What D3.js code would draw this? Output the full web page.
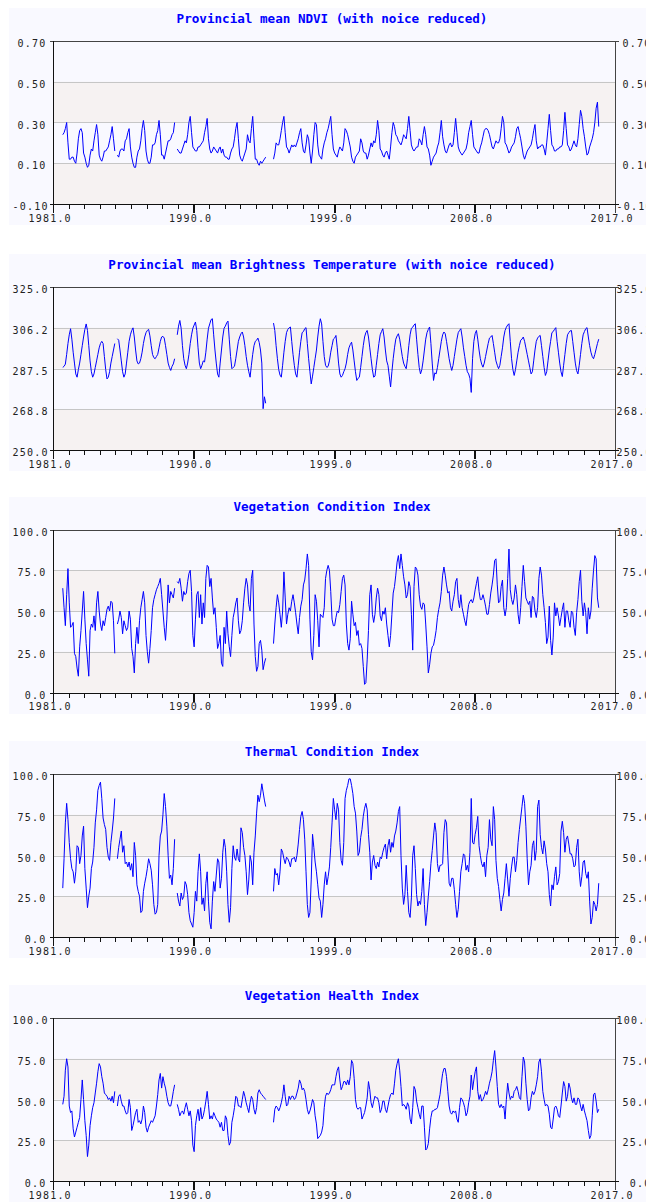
<!DOCTYPE html>
<html>
<head>
<meta charset="utf-8">
<script src="https://cdn.jsdelivr.net/npm/d3@7"></script>
<style>
  body { margin: 0; background: #fff; overflow: hidden; }
  svg { display: block; }
</style>
</head>
<body>
<svg id="chart" width="646" height="1203"></svg>
<script>
/* Provincial VHP series, monthly values.
   One row per year (Jan..Dec), starting Jan 1981. null = no data. */

const startYear = 1981;

const ndvi = [
  null,null,null,null,null,null,null,0.24,0.25,0.27,0.30,0.20,
  0.12,0.12,0.13,0.13,0.11,0.10,0.15,0.22,0.26,0.27,0.25,0.15,
  0.13,0.10,0.08,0.09,0.14,0.17,0.16,0.21,0.25,0.29,0.24,0.14,
  0.12,0.11,0.13,0.16,0.16,0.17,0.18,0.21,0.24,0.28,0.22,0.16,
  null,0.14,0.13,0.16,0.17,0.17,0.16,0.21,0.22,0.25,0.27,0.18,
  0.13,0.10,0.08,0.08,0.13,0.16,0.17,0.21,0.27,0.31,0.26,0.16,
  0.12,0.10,0.10,0.13,0.19,0.19,0.20,0.24,0.26,0.31,0.24,0.14,
  0.14,0.12,0.15,0.18,0.21,0.21,0.22,0.24,0.25,0.30,null,0.17,
  0.16,0.15,0.15,0.17,0.19,0.21,0.20,0.24,0.30,0.33,0.25,0.18,
  0.17,0.16,0.16,0.18,0.18,0.19,0.20,0.21,0.25,0.28,0.32,0.22,
  0.17,0.15,0.16,0.18,0.17,0.16,0.15,0.17,0.18,0.15,0.17,0.14,
  0.13,0.13,0.12,0.12,0.15,0.17,0.18,0.22,0.27,0.30,0.22,0.14,
  0.12,0.11,0.13,0.15,0.17,0.24,0.21,0.20,0.27,0.33,0.22,0.12,
  0.12,0.10,0.09,0.11,0.10,0.11,0.12,0.13,null,null,null,null,
  null,0.12,0.15,0.20,0.19,0.19,0.22,0.26,0.30,0.33,0.25,0.18,
  0.17,0.15,0.17,0.19,0.18,0.19,0.18,0.20,0.22,0.25,0.27,0.20,
  0.16,0.15,0.19,0.24,0.22,0.15,0.10,0.16,0.24,0.30,0.29,0.19,
  0.14,0.13,0.12,0.17,0.20,0.22,0.25,0.27,0.30,0.33,0.24,0.17,
  0.15,0.14,0.13,0.16,0.18,0.17,0.16,0.20,0.27,0.26,0.24,0.21,
  0.18,0.13,0.11,0.10,0.13,0.14,0.15,0.16,0.22,0.20,0.16,0.15,
  0.15,0.12,0.14,0.17,0.20,0.18,0.21,0.20,0.24,0.31,0.26,0.17,
  0.16,0.14,0.13,0.15,0.16,0.14,0.12,0.18,0.25,0.30,0.28,0.24,
  0.23,0.21,0.20,0.19,0.21,0.24,0.23,0.22,0.27,0.33,0.26,0.19,
  0.17,0.16,0.17,0.18,0.18,0.22,0.21,0.19,0.24,0.28,0.24,0.18,
  0.17,0.14,0.09,0.11,0.13,0.14,0.15,0.18,0.20,0.25,0.31,0.23,
  0.19,0.16,0.15,0.17,0.19,0.20,0.18,0.19,0.25,0.32,0.25,0.18,
  0.16,0.15,0.14,0.15,0.16,0.17,0.20,0.25,0.28,0.31,0.24,0.18,
  0.17,0.16,0.15,0.15,0.18,0.20,0.23,0.26,0.27,0.27,0.26,0.24,
  0.21,0.18,0.17,0.19,0.21,0.20,0.20,0.22,0.27,0.33,0.30,0.20,
  0.19,0.17,0.15,0.16,0.18,0.19,0.20,0.23,0.27,0.28,0.25,0.22,
  0.18,0.14,0.12,0.14,0.16,0.17,0.18,0.19,0.22,0.26,0.29,0.21,
  0.17,0.18,0.18,0.19,0.19,0.17,0.14,0.20,0.27,0.34,0.26,0.19,
  0.18,0.16,0.16,0.17,0.17,0.18,0.18,0.19,0.26,0.35,0.27,0.19,
  0.18,0.16,0.17,0.19,0.21,0.19,0.18,0.22,0.29,0.36,0.33,0.27,
  0.23,0.18,0.14,0.15,0.18,0.20,0.22,0.25,0.30,0.37,0.40,0.28
];

const bt = [
  null,null,null,null,null,null,null,288.0,288.5,289.5,294.0,299.0,
  303.0,305.8,301.0,295.0,290.0,285.0,283.5,287.0,290.0,294.0,298.0,302.0,
  305.5,308.0,305.0,298.0,291.0,286.0,283.5,285.0,288.0,291.0,294.0,297.0,
  299.0,300.0,299.0,293.0,287.0,282.7,283.5,286.0,290.0,293.0,296.0,299.0,
  null,301.2,300.5,296.0,291.0,286.0,283.5,285.0,290.0,295.0,300.0,303.0,
  305.0,306.2,302.0,296.0,291.0,289.6,290.0,292.0,295.0,299.0,302.0,304.0,
  305.0,305.5,302.5,298.0,294.0,292.5,292.0,293.0,294.0,297.0,300.0,302.0,
  302.3,301.5,298.0,294.0,290.0,288.0,286.6,288.5,289.6,292.0,null,303.0,
  307.0,309.6,306.0,298.0,292.0,289.0,287.4,290.0,294.0,299.0,303.0,306.0,
  307.5,308.9,305.0,297.0,290.0,287.4,289.0,291.0,290.5,295.0,301.0,306.0,
  308.0,310.0,310.4,303.0,296.0,290.0,285.0,283.5,290.0,296.0,302.0,306.0,
  307.0,308.5,309.3,301.0,293.0,287.4,288.0,288.5,292.0,296.0,300.0,302.0,
  303.5,304.3,302.0,298.0,293.0,289.0,286.0,283.5,289.0,294.0,298.0,300.0,
  300.5,301.5,299.5,296.0,290.0,269.0,274.5,271.5,null,null,null,null,
  null,308.4,305.0,298.0,292.0,287.0,284.5,283.5,289.0,295.0,300.0,304.0,
  305.5,306.2,306.6,300.0,294.0,289.0,285.0,283.5,289.0,295.0,300.0,304.0,
  304.5,305.8,306.3,299.0,292.0,286.0,280.4,284.0,288.0,292.0,296.0,302.0,
  307.0,310.4,308.0,300.0,293.0,289.0,288.0,288.5,291.0,295.0,298.0,301.0,
  301.5,302.7,297.0,290.0,285.0,283.5,284.3,286.0,287.4,290.0,294.0,297.0,
  298.5,299.6,296.0,291.0,286.0,282.0,283.0,283.5,288.0,293.0,298.0,302.0,
  304.0,305.0,302.0,297.0,292.0,287.0,283.5,284.0,289.0,294.0,299.0,303.0,
  304.5,305.8,302.0,296.0,291.0,288.9,284.0,279.0,286.0,292.0,297.0,301.0,
  302.5,303.5,301.0,297.0,293.0,290.0,288.5,287.4,292.0,298.0,303.0,306.0,
  306.5,307.5,308.1,301.0,294.0,288.0,285.0,287.0,291.0,296.0,301.0,304.0,
  305.5,306.6,299.0,290.0,282.0,285.5,285.0,288.0,292.0,296.0,300.0,303.0,
  304.3,303.5,300.0,296.0,292.0,289.0,286.6,289.0,293.0,297.0,301.0,304.0,
  305.0,305.8,302.0,297.0,293.0,289.0,286.0,285.0,283.0,276.5,292.0,300.0,
  303.5,305.0,301.0,296.0,292.0,289.5,288.1,290.0,293.0,296.0,299.0,301.5,
  302.0,302.7,299.0,295.0,291.0,289.0,287.4,289.0,293.0,297.0,302.0,305.0,
  306.5,307.5,308.1,300.0,292.0,287.0,284.3,287.0,291.0,295.0,298.0,300.5,
  301.0,302.0,300.0,297.0,294.0,291.0,288.0,285.0,286.0,291.0,296.0,300.0,
  301.5,302.3,302.7,298.0,293.0,288.0,284.3,286.0,291.0,296.0,300.0,304.0,
  304.5,305.5,306.3,300.0,295.0,290.0,286.0,283.8,289.0,294.0,299.0,303.0,
  304.0,304.8,305.0,300.0,295.0,290.0,286.5,285.0,289.0,294.0,299.0,303.0,
  304.5,305.8,306.3,302.0,298.0,295.0,293.0,292.0,294.0,296.5,299.0,301.0
];

const vci = [
  null,null,null,null,null,null,null,64,52,41,60,76,
  55,40,41,43,24,22,15,10,28,38,50,62,
  45,30,20,10,38,42,40,47,38,55,62,50,
  42,38,44,41,46,51,53,50,56,55,44,24,
  null,42,45,50,46,36,44,41,38,40,50,45,
  27,22,12,30,40,30,44,52,57,62,55,35,
  25,18,27,38,52,57,60,63,65,67,70,60,
  50,40,32,45,66,55,62,60,58,64,null,68,
  67,70,64,56,62,60,61,68,73,75,62,35,
  28,45,60,62,46,60,42,55,46,70,78,77,
  65,70,58,48,52,40,27,30,35,18,16,40,
  30,50,36,28,22,35,46,50,55,58,44,36,
  38,44,55,64,70,66,54,50,70,75,42,22,
  13,16,30,32,26,14,18,21,null,null,null,null,
  null,30,42,52,60,55,48,40,50,74,58,42,
  48,52,50,56,60,55,49,42,36,46,53,57,
  66,69,76,85,78,45,25,20,35,60,56,44,
  28,48,47,46,52,70,75,78,75,62,45,41,
  41,46,50,49,54,62,70,72,66,42,30,26,
  33,56,48,41,43,35,38,29,30,27,16,5,
  6,20,38,60,66,48,43,48,58,64,60,47,
  44,50,48,52,42,35,28,35,48,61,65,72,
  80,84,76,85,78,71,66,58,60,68,65,48,
  26,65,77,76,72,60,53,51,55,54,42,28,
  12,17,24,28,29,33,38,46,51,55,62,72,
  77,72,66,61,62,52,50,56,60,68,70,57,
  52,60,52,48,44,41,48,54,56,57,55,58,
  63,67,71,62,57,57,60,57,53,48,48,54,
  61,66,72,81,82,66,55,56,65,69,52,47,
  52,70,88,63,57,54,58,66,60,48,42,52,
  65,78,68,58,56,54,56,46,59,58,50,46,
  52,70,77,72,60,52,43,30,34,53,32,23,
  34,55,47,52,47,41,46,51,55,40,50,50,
  44,40,50,49,40,35,49,57,68,75,56,47,
  55,49,36,52,45,50,64,75,84,82,58,52
];

const tci = [
  null,null,null,null,null,null,null,30,48,70,82,72,
  58,48,42,40,33,40,56,55,45,50,62,68,
  42,30,18,25,30,42,46,55,70,78,90,93,
  95,85,73,69,66,55,49,47,58,65,73,85,
  null,48,55,60,65,52,56,45,46,43,46,41,
  45,37,58,50,32,28,25,15,16,28,33,37,
  42,48,45,41,32,20,14,15,20,50,62,65,
  75,88,80,68,50,36,38,32,42,60,null,27,
  22,19,27,23,25,34,32,26,15,10,8,6,
  15,28,22,40,51,40,20,24,16,33,40,22,
  9,5,22,34,28,38,48,46,30,36,52,60,
  55,40,20,9,18,42,56,49,47,54,48,46,
  67,64,55,50,40,26,35,50,46,32,52,62,
  76,87,83,87,94,89,84,80,null,null,null,null,
  null,28,42,38,39,32,40,54,52,48,45,49,
  48,46,43,48,48,49,46,50,57,66,74,77,
  72,60,40,20,12,15,35,63,55,46,40,32,
  24,22,12,20,32,40,32,37,43,55,70,85,
  78,72,82,78,58,47,44,58,85,90,93,97,
  97,93,88,80,76,65,50,52,61,66,74,79,
  82,78,63,52,35,46,50,44,42,46,43,49,
  48,52,55,57,48,56,60,52,58,55,62,65,
  70,77,80,50,30,20,26,44,28,15,12,24,
  50,56,42,26,19,22,20,28,42,20,7,15,
  25,34,45,53,62,70,64,45,40,44,44,45,
  64,72,70,50,33,31,36,36,29,20,12,17,
  28,40,45,51,50,41,44,40,52,85,58,57,
  63,67,74,56,50,45,43,46,37,50,55,72,
  60,56,80,72,47,36,31,23,16,23,27,36,
  45,35,25,36,43,49,49,40,47,58,66,73,
  80,87,82,68,48,32,40,44,56,59,47,53,
  80,84,63,55,51,59,54,45,40,26,19,32,
  29,37,43,32,34,39,65,71,64,52,60,62,
  57,51,51,48,43,44,55,60,40,31,37,46,
  47,39,36,40,22,8,12,22,20,16,20,33
];

const vhi = [
  null,null,null,null,null,null,null,47,52,68,75,70,
  46,42,43,32,27,30,33,36,39,50,62,50,
  37,28,15,22,34,40,45,48,54,60,67,72,
  70,64,60,54,53,52,50,51,49,52,48,55,
  null,46,52,53,49,46,46,43,41,42,50,45,
  31,34,38,42,44,36,37,35,38,46,42,33,
  30,33,35,37,36,38,40,46,53,62,66,57,
  64,60,57,52,48,46,46,50,55,59,null,47,
  44,40,42,43,41,45,48,44,40,43,37,22,
  18,34,40,44,37,45,38,40,44,49,55,47,
  38,40,38,42,40,38,37,36,33,36,31,31,
  40,38,28,22,24,36,40,45,52,51,46,46,
  45,50,55,52,48,45,42,48,52,50,44,41,
  45,54,56,54,53,52,51,50,null,null,null,null,
  null,36,44,46,45,43,45,48,52,59,52,46,
  47,52,50,52,52,50,51,54,57,62,60,56,
  57,55,50,44,41,43,46,50,48,40,35,26,
  27,28,30,34,45,52,54,53,54,56,59,59,
  59,64,68,70,62,56,58,61,61,59,62,59,
  64,74,72,63,50,45,44,45,45,38,40,42,
  46,51,61,56,48,45,49,52,51,51,48,42,
  44,49,49,44,42,46,50,53,54,53,60,68,
  72,75,68,58,46,47,46,44,48,46,38,35,
  45,58,56,49,45,41,38,46,46,33,19,20,
  23,32,39,43,43,44,44,45,49,53,60,66,
  69,69,64,55,46,42,41,43,42,43,38,36,
  45,51,50,48,45,40,42,48,52,65,56,62,
  67,70,55,50,53,49,50,52,55,53,56,60,
  63,67,74,80,70,58,47,45,47,45,46,38,
  50,60,54,50,52,51,55,56,58,55,51,50,
  64,76,73,60,50,43,44,51,55,53,55,59,
  64,73,75,67,55,50,46,47,46,41,33,32,
  38,45,46,44,40,39,46,54,61,58,49,52,
  60,57,51,48,51,47,47,51,50,46,43,47,
  43,40,37,31,26,28,40,53,54,49,42,44
];

// axis ticks and labels
const majorYears = [1981, 1990, 1999, 2008, 2017];
const minorYears = d3.range(1982, 2017).filter(y => !majorYears.includes(y));

const ndviTicks = [-0.10, 0.10, 0.30, 0.50, 0.70];
const ndviLabels = ["-0.10", "0.10", "0.30", "0.50", "0.70"];
const btTicks = [250, 268.75, 287.5, 306.25, 325];
const btLabels = ["250.0", "268.8", "287.5", "306.2", "325.0"];
const indexTicks = [0, 25, 50, 75, 100];
const indexLabels = ["0.0", "25.0", "50.0", "75.0", "100.0"];

const titles = [
  "Provincial mean NDVI (with noice reduced)",
  "Provincial mean Brightness Temperature (with noice reduced)",
  "Vegetation Condition Index",
  "Thermal Condition Index",
  "Vegetation Health Index"
];

// layout
const plotTops = [41, 287, 529.5, 774, 1018];
const plotH = 163;
const plotL = 53, plotR = 615;
const charW = 7.22;

const panels = [
  { title: titles[0], data: ndvi, ticks: ndviTicks, labels: ndviLabels },
  { title: titles[1], data: bt,   ticks: btTicks,   labels: btLabels },
  { title: titles[2], data: vci,  ticks: indexTicks, labels: indexLabels },
  { title: titles[3], data: tci,  ticks: indexTicks, labels: indexLabels },
  { title: titles[4], data: vhi,  ticks: indexTicks, labels: indexLabels }
];

const svg = d3.select("#chart");
const x = d3.scaleLinear().domain([1981, 2017]).range([plotL, plotR]);
const crisp = v => Math.round(v) + 0.5;

function monthly(values) {
  return values.map((v, i) => ({ t: startYear + (i + 0.5) / 12, v }));
}

panels.forEach((p, idx) => {
  const top = plotTops[idx];
  const bottom = top + plotH;
  const y = d3.scaleLinear()
    .domain([p.ticks[0], p.ticks[p.ticks.length - 1]])
    .range([bottom, top]);

  const g = svg.append("g");

  // image background
  g.append("rect")
    .attr("x", 9).attr("y", Math.round(top - 33))
    .attr("width", 646).attr("height", plotH + 54)
    .attr("fill", "#f9f9ff");

  // alternating bands, bottom one tinted
  for (let i = 0; i < p.ticks.length - 1; i += 2) {
    g.append("rect")
      .attr("x", plotL).attr("y", y(p.ticks[i + 1]))
      .attr("width", plotR - plotL)
      .attr("height", y(p.ticks[i]) - y(p.ticks[i + 1]))
      .attr("fill", "#f6f2f2");
  }

  // gridlines
  g.selectAll(".grid")
    .data(p.ticks.slice(1, -1))
    .join("line")
    .attr("x1", plotL).attr("x2", plotR)
    .attr("y1", d => crisp(y(d))).attr("y2", d => crisp(y(d)))
    .attr("stroke", "#c6c6c6")
    .attr("shape-rendering", "crispEdges");

  // series
  const line = d3.line()
    .defined(d => d.v !== null)
    .x(d => x(d.t))
    .y(d => y(d.v));

  g.append("path")
    .datum(monthly(p.data))
    .attr("d", line)
    .attr("fill", "none")
    .attr("stroke", "#0000ff")
    .attr("stroke-width", 1)
    .attr("stroke-linejoin", "round");

  // frame
  const frame = g.append("g").attr("shape-rendering", "crispEdges");
  frame.append("line")
    .attr("x1", plotL - 3).attr("x2", plotR + 4)
    .attr("y1", crisp(top)).attr("y2", crisp(top))
    .attr("stroke", "#444");
  frame.append("line")
    .attr("x1", crisp(plotR)).attr("x2", crisp(plotR))
    .attr("y1", top).attr("y2", bottom + 9)
    .attr("stroke", "#444");
  frame.append("line")
    .attr("x1", crisp(plotL)).attr("x2", crisp(plotL))
    .attr("y1", top).attr("y2", bottom + 9)
    .attr("stroke", "#111");
  frame.append("line")
    .attr("x1", plotL - 3).attr("x2", plotR + 4)
    .attr("y1", crisp(bottom)).attr("y2", crisp(bottom))
    .attr("stroke", "#111");

  // minor year ticks
  g.append("g")
    .attr("transform", `translate(0,${Math.round(bottom)})`)
    .call(d3.axisBottom(x).tickValues(minorYears).tickSize(5).tickFormat(""))
    .call(a => a.select(".domain").remove())
    .call(a => a.selectAll("line").attr("stroke", "#111").attr("shape-rendering", "crispEdges"));

  // major year ticks + labels
  g.append("g")
    .attr("transform", `translate(0,${Math.round(bottom)})`)
    .call(d3.axisBottom(x).tickValues(majorYears.slice(1, -1)).tickSize(9).tickFormat(""))
    .call(a => a.select(".domain").remove())
    .call(a => a.selectAll("line").attr("stroke", "#111").attr("stroke-width", 2)
      .attr("shape-rendering", "crispEdges"));

  g.selectAll(".xlab")
    .data(majorYears)
    .join("text")
    .attr("x", d => x(d) - 24.5)
    .attr("y", bottom + 17.5)
    .attr("class", "lab")
    .text(d => d3.format(".1f")(d));

  // y labels both sides
  g.selectAll(".ylabL")
    .data(p.ticks)
    .join("text")
    .attr("class", "lab")
    .attr("x", (d, i) => Math.max(12.5, 46.5 - p.labels[i].length * charW))
    .attr("y", d => y(d) + 6)
    .text((d, i) => p.labels[i]);

  g.selectAll(".ylabR")
    .data(p.ticks)
    .join("text")
    .attr("class", "lab")
    .attr("x", (d, i) => Math.max(616.5, 651.5 - p.labels[i].length * charW))
    .attr("y", d => y(d) + 6)
    .text((d, i) => p.labels[i]);

  // title
  g.append("text")
    .attr("x", 332)
    .attr("y", top - 18.5)
    .attr("text-anchor", "middle")
    .attr("font-family", "'DejaVu Sans Mono', monospace")
    .attr("font-weight", "bold")
    .attr("font-size", "12.6px")
    .attr("fill", "#0000ff")
    .text(p.title);
});

svg.selectAll("text.lab")
  .attr("font-family", "'DejaVu Sans Mono', monospace")
  .attr("font-size", "10px")
  .attr("letter-spacing", "1.2px")
  .attr("fill", "#222");
</script>
</body>
</html>
